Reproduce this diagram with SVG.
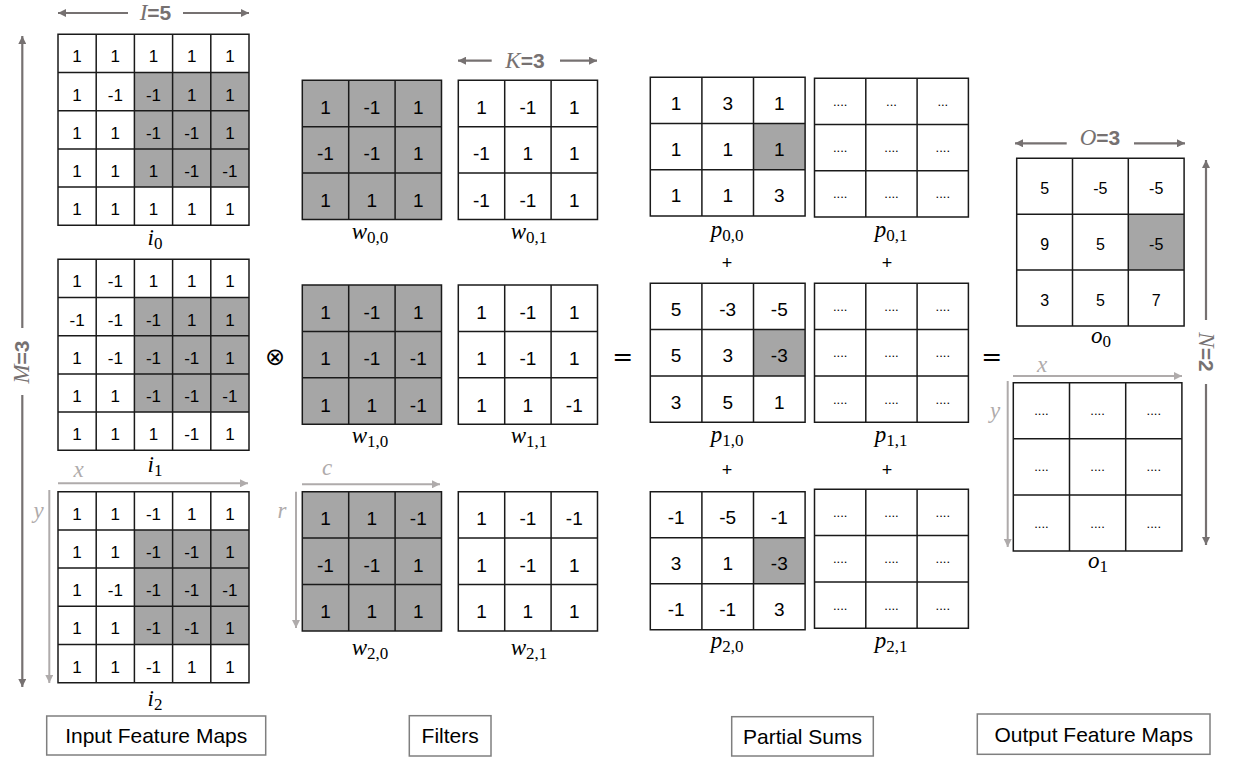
<svg xmlns="http://www.w3.org/2000/svg" width="1233" height="759" viewBox="0 0 1233 759">
<defs>
<style>
.bg{fill:#fff}
.sh{fill:#A6A6A6}
.gl{fill:none;stroke:#1a1a1a;stroke-width:1.5}
.n17{font-family:"Liberation Sans",Arial,sans-serif;font-size:17px;fill:#000;text-anchor:middle}
.n19{font-family:"Liberation Sans",Arial,sans-serif;font-size:19px;fill:#000;text-anchor:middle}
.n16{font-family:"Liberation Sans",Arial,sans-serif;font-size:16px;fill:#000;text-anchor:middle}
.dt{font-family:"Liberation Sans",Arial,sans-serif;font-size:13px;fill:#000;text-anchor:middle}
.lb{font-family:"Liberation Serif","Times New Roman",serif;font-style:italic;font-size:23px;fill:#000;text-anchor:middle}
.sb{font-style:normal;font-size:17px}
.op{font-family:"DejaVu Sans","Liberation Sans",sans-serif;fill:#000;text-anchor:middle}
.dim{stroke:#767171;stroke-width:2.2;fill:none}
.dimt{font-family:"Liberation Sans",Arial,sans-serif;font-size:21px;font-weight:bold;fill:#767171;text-anchor:middle}
.dimi{font-family:"Liberation Serif","Times New Roman",serif;font-style:italic;font-weight:normal;font-size:23px}
.ax{stroke:#AFABAB;stroke-width:2;fill:none}
.axt{font-family:"Liberation Serif","Times New Roman",serif;font-style:italic;font-size:23px;fill:#AFABAB;text-anchor:middle}
.box{fill:#fff;stroke:#7f7f7f;stroke-width:1.5}
.bt{font-family:"Liberation Sans",Arial,sans-serif;font-size:21px;fill:#000;text-anchor:middle}
</style>
<marker id="ahd" viewBox="0 0 10 10" refX="10" refY="5" markerWidth="10" markerHeight="8" markerUnits="userSpaceOnUse" orient="auto"><path d="M0,0 L10,5 L0,10 z" fill="#767171"/></marker>
<marker id="ahl" viewBox="0 0 10 10" refX="10" refY="5" markerWidth="10" markerHeight="8" markerUnits="userSpaceOnUse" orient="auto"><path d="M0,0 L10,5 L0,10 z" fill="#AFABAB"/></marker>
</defs>

<!-- Input feature maps -->
<g id="i0">
<rect class="bg" x="58" y="34.3" width="191" height="191"/>
<rect class="sh" x="134.4" y="72.5" width="114.6" height="114.6"/>
<path class="gl" d="M58,34.3H249V225.3H58Z M96.2,34.3V225.3 M134.4,34.3V225.3 M172.6,34.3V225.3 M210.8,34.3V225.3 M58,72.5H249 M58,110.7H249 M58,148.9H249 M58,187.1H249"/>
<g class="n17">
<text x="77.1" y="62.3">1</text><text x="115.3" y="62.3">1</text><text x="153.5" y="62.3">1</text><text x="191.7" y="62.3">1</text><text x="229.9" y="62.3">1</text>
<text x="77.1" y="100.5">1</text><text x="115.3" y="100.5">-1</text><text x="153.5" y="100.5">-1</text><text x="191.7" y="100.5">1</text><text x="229.9" y="100.5">1</text>
<text x="77.1" y="138.7">1</text><text x="115.3" y="138.7">1</text><text x="153.5" y="138.7">-1</text><text x="191.7" y="138.7">-1</text><text x="229.9" y="138.7">1</text>
<text x="77.1" y="176.9">1</text><text x="115.3" y="176.9">1</text><text x="153.5" y="176.9">1</text><text x="191.7" y="176.9">-1</text><text x="229.9" y="176.9">-1</text>
<text x="77.1" y="215.1">1</text><text x="115.3" y="215.1">1</text><text x="153.5" y="215.1">1</text><text x="191.7" y="215.1">1</text><text x="229.9" y="215.1">1</text>
</g>
<text class="lb" x="155" y="245">i<tspan class="sb" dy="4">0</tspan></text>
</g>

<g id="i1">
<rect class="bg" x="58" y="259.3" width="191" height="191"/>
<rect class="sh" x="134.4" y="297.5" width="114.6" height="114.6"/>
<path class="gl" d="M58,259.3H249V450.3H58Z M96.2,259.3V450.3 M134.4,259.3V450.3 M172.6,259.3V450.3 M210.8,259.3V450.3 M58,297.5H249 M58,335.7H249 M58,373.9H249 M58,412.1H249"/>
<g class="n17">
<text x="77.1" y="287.3">1</text><text x="115.3" y="287.3">-1</text><text x="153.5" y="287.3">1</text><text x="191.7" y="287.3">1</text><text x="229.9" y="287.3">1</text>
<text x="77.1" y="325.5">-1</text><text x="115.3" y="325.5">-1</text><text x="153.5" y="325.5">-1</text><text x="191.7" y="325.5">1</text><text x="229.9" y="325.5">1</text>
<text x="77.1" y="363.7">1</text><text x="115.3" y="363.7">-1</text><text x="153.5" y="363.7">-1</text><text x="191.7" y="363.7">-1</text><text x="229.9" y="363.7">1</text>
<text x="77.1" y="401.9">1</text><text x="115.3" y="401.9">1</text><text x="153.5" y="401.9">-1</text><text x="191.7" y="401.9">-1</text><text x="229.9" y="401.9">-1</text>
<text x="77.1" y="440.1">1</text><text x="115.3" y="440.1">1</text><text x="153.5" y="440.1">1</text><text x="191.7" y="440.1">-1</text><text x="229.9" y="440.1">1</text>
</g>
<text class="lb" x="155" y="472">i<tspan class="sb" dy="4">1</tspan></text>
</g>

<g id="i2">
<rect class="bg" x="58" y="491.7" width="191" height="191"/>
<rect class="sh" x="134.4" y="529.9" width="114.6" height="114.6"/>
<path class="gl" d="M58,491.7H249V682.7H58Z M96.2,491.7V682.7 M134.4,491.7V682.7 M172.6,491.7V682.7 M210.8,491.7V682.7 M58,529.9H249 M58,568.1H249 M58,606.3H249 M58,644.5H249"/>
<g class="n17">
<text x="77.1" y="519.7">1</text><text x="115.3" y="519.7">1</text><text x="153.5" y="519.7">-1</text><text x="191.7" y="519.7">1</text><text x="229.9" y="519.7">1</text>
<text x="77.1" y="557.9">1</text><text x="115.3" y="557.9">1</text><text x="153.5" y="557.9">-1</text><text x="191.7" y="557.9">-1</text><text x="229.9" y="557.9">1</text>
<text x="77.1" y="596.1">1</text><text x="115.3" y="596.1">-1</text><text x="153.5" y="596.1">-1</text><text x="191.7" y="596.1">-1</text><text x="229.9" y="596.1">-1</text>
<text x="77.1" y="634.3">1</text><text x="115.3" y="634.3">1</text><text x="153.5" y="634.3">-1</text><text x="191.7" y="634.3">-1</text><text x="229.9" y="634.3">1</text>
<text x="77.1" y="672.5">1</text><text x="115.3" y="672.5">1</text><text x="153.5" y="672.5">-1</text><text x="191.7" y="672.5">1</text><text x="229.9" y="672.5">1</text>
</g>
<text class="lb" x="155" y="706">i<tspan class="sb" dy="4">2</tspan></text>
</g>

<!-- Filters -->
<g id="w00">
<rect class="sh" x="302.3" y="80.3" width="139.2" height="139.2"/>
<path class="gl" d="M302.3,80.3H441.5V219.5H302.3Z M348.7,80.3V219.5 M395.1,80.3V219.5 M302.3,126.7H441.5 M302.3,173.1H441.5"/>
<g class="n19">
<text x="325.5" y="114">1</text><text x="371.9" y="114">-1</text><text x="418.3" y="114">1</text>
<text x="325.5" y="160.4">-1</text><text x="371.9" y="160.4">-1</text><text x="418.3" y="160.4">1</text>
<text x="325.5" y="206.8">1</text><text x="371.9" y="206.8">1</text><text x="418.3" y="206.8">1</text>
</g>
<text class="lb" x="370" y="239">w<tspan class="sb" dy="4">0,0</tspan></text>
</g>

<g id="w01">
<rect class="bg" x="458.3" y="80.3" width="139.2" height="139.2"/>
<path class="gl" d="M458.3,80.3H597.5V219.5H458.3Z M504.7,80.3V219.5 M551.1,80.3V219.5 M458.3,126.7H597.5 M458.3,173.1H597.5"/>
<g class="n19">
<text x="481.5" y="114">1</text><text x="527.9" y="114">-1</text><text x="574.3" y="114">1</text>
<text x="481.5" y="160.4">-1</text><text x="527.9" y="160.4">1</text><text x="574.3" y="160.4">1</text>
<text x="481.5" y="206.8">-1</text><text x="527.9" y="206.8">-1</text><text x="574.3" y="206.8">1</text>
</g>
<text class="lb" x="529" y="239">w<tspan class="sb" dy="4">0,1</tspan></text>
</g>

<g id="w10">
<rect class="sh" x="302.3" y="285" width="139.2" height="139.2"/>
<path class="gl" d="M302.3,285H441.5V424.2H302.3Z M348.7,285V424.2 M395.1,285V424.2 M302.3,331.4H441.5 M302.3,377.8H441.5"/>
<g class="n19">
<text x="325.5" y="318.7">1</text><text x="371.9" y="318.7">-1</text><text x="418.3" y="318.7">1</text>
<text x="325.5" y="365.1">1</text><text x="371.9" y="365.1">-1</text><text x="418.3" y="365.1">-1</text>
<text x="325.5" y="411.5">1</text><text x="371.9" y="411.5">1</text><text x="418.3" y="411.5">-1</text>
</g>
<text class="lb" x="370" y="443">w<tspan class="sb" dy="4">1,0</tspan></text>
</g>

<g id="w11">
<rect class="bg" x="458.3" y="285" width="139.2" height="139.2"/>
<path class="gl" d="M458.3,285H597.5V424.2H458.3Z M504.7,285V424.2 M551.1,285V424.2 M458.3,331.4H597.5 M458.3,377.8H597.5"/>
<g class="n19">
<text x="481.5" y="318.7">1</text><text x="527.9" y="318.7">-1</text><text x="574.3" y="318.7">1</text>
<text x="481.5" y="365.1">1</text><text x="527.9" y="365.1">-1</text><text x="574.3" y="365.1">1</text>
<text x="481.5" y="411.5">1</text><text x="527.9" y="411.5">1</text><text x="574.3" y="411.5">-1</text>
</g>
<text class="lb" x="529" y="443">w<tspan class="sb" dy="4">1,1</tspan></text>
</g>

<g id="w20">
<rect class="sh" x="302.3" y="491.7" width="139.2" height="139.2"/>
<path class="gl" d="M302.3,491.7H441.5V630.9H302.3Z M348.7,491.7V630.9 M395.1,491.7V630.9 M302.3,538.1H441.5 M302.3,584.5H441.5"/>
<g class="n19">
<text x="325.5" y="525.4">1</text><text x="371.9" y="525.4">1</text><text x="418.3" y="525.4">-1</text>
<text x="325.5" y="571.8">-1</text><text x="371.9" y="571.8">-1</text><text x="418.3" y="571.8">1</text>
<text x="325.5" y="618.2">1</text><text x="371.9" y="618.2">1</text><text x="418.3" y="618.2">1</text>
</g>
<text class="lb" x="370" y="655">w<tspan class="sb" dy="4">2,0</tspan></text>
</g>

<g id="w21">
<rect class="bg" x="458.3" y="491.7" width="139.2" height="139.2"/>
<path class="gl" d="M458.3,491.7H597.5V630.9H458.3Z M504.7,491.7V630.9 M551.1,491.7V630.9 M458.3,538.1H597.5 M458.3,584.5H597.5"/>
<g class="n19">
<text x="481.5" y="525.4">1</text><text x="527.9" y="525.4">-1</text><text x="574.3" y="525.4">-1</text>
<text x="481.5" y="571.8">1</text><text x="527.9" y="571.8">-1</text><text x="574.3" y="571.8">1</text>
<text x="481.5" y="618.2">1</text><text x="527.9" y="618.2">1</text><text x="574.3" y="618.2">1</text>
</g>
<text class="lb" x="529" y="655">w<tspan class="sb" dy="4">2,1</tspan></text>
</g>

<!-- Partial sums -->
<g id="p00">
<rect class="bg" x="650.3" y="77.3" width="154.8" height="138.6"/>
<rect class="sh" x="753.5" y="123.5" width="51.6" height="46.2"/>
<path class="gl" d="M650.3,77.3H805.1V215.9H650.3Z M701.9,77.3V215.9 M753.5,77.3V215.9 M650.3,123.5H805.1 M650.3,169.7H805.1"/>
<g class="n19">
<text x="676.1" y="110">1</text><text x="727.7" y="110">3</text><text x="779.3" y="110">1</text>
<text x="676.1" y="156.2">1</text><text x="727.7" y="156.2">1</text><text x="779.3" y="156.2">1</text>
<text x="676.1" y="202.4">1</text><text x="727.7" y="202.4">1</text><text x="779.3" y="202.4">3</text>
</g>
<text class="lb" x="727" y="237">p<tspan class="sb" dy="4">0,0</tspan></text>
</g>

<g id="p01">
<rect class="bg" x="814.5" y="78.3" width="153.9" height="138.6"/>
<path class="gl" d="M814.5,78.3H968.4V216.9H814.5Z M865.8,78.3V216.9 M917.1,78.3V216.9 M814.5,124.5H968.4 M814.5,170.7H968.4"/>
<g class="dt">
<text x="840.2" y="105.9">....</text><text x="891.5" y="105.9">...</text><text x="942.8" y="105.9">...</text>
<text x="840.2" y="152.1">....</text><text x="891.5" y="152.1">....</text><text x="942.8" y="152.1">....</text>
<text x="840.2" y="198.3">....</text><text x="891.5" y="198.3">....</text><text x="942.8" y="198.3">....</text>
</g>
<text class="lb" x="891" y="237">p<tspan class="sb" dy="4">0,1</tspan></text>
</g>

<g id="p10">
<rect class="bg" x="650.3" y="283.3" width="154.8" height="138.9"/>
<rect class="sh" x="753.5" y="329.6" width="51.6" height="46.3"/>
<path class="gl" d="M650.3,283.3H805.1V422.2H650.3Z M701.9,283.3V422.2 M753.5,283.3V422.2 M650.3,329.6H805.1 M650.3,375.9H805.1"/>
<g class="n19">
<text x="676.1" y="316">5</text><text x="727.7" y="316">-3</text><text x="779.3" y="316">-5</text>
<text x="676.1" y="362.3">5</text><text x="727.7" y="362.3">3</text><text x="779.3" y="362.3">-3</text>
<text x="676.1" y="408.6">3</text><text x="727.7" y="408.6">5</text><text x="779.3" y="408.6">1</text>
</g>
<text class="lb" x="727" y="442">p<tspan class="sb" dy="4">1,0</tspan></text>
</g>

<g id="p11">
<rect class="bg" x="814.5" y="283.3" width="153.9" height="138.9"/>
<path class="gl" d="M814.5,283.3H968.4V422.2H814.5Z M865.8,283.3V422.2 M917.1,283.3V422.2 M814.5,329.6H968.4 M814.5,375.9H968.4"/>
<g class="dt">
<text x="840.2" y="310.9">....</text><text x="891.5" y="310.9">....</text><text x="942.8" y="310.9">....</text>
<text x="840.2" y="357.2">....</text><text x="891.5" y="357.2">....</text><text x="942.8" y="357.2">....</text>
<text x="840.2" y="403.5">....</text><text x="891.5" y="403.5">....</text><text x="942.8" y="403.5">....</text>
</g>
<text class="lb" x="891" y="442">p<tspan class="sb" dy="4">1,1</tspan></text>
</g>

<g id="p20">
<rect class="bg" x="650.3" y="491.7" width="154.8" height="138"/>
<rect class="sh" x="753.5" y="537.7" width="51.6" height="46"/>
<path class="gl" d="M650.3,491.7H805.1V629.7H650.3Z M701.9,491.7V629.7 M753.5,491.7V629.7 M650.3,537.7H805.1 M650.3,583.7H805.1"/>
<g class="n19">
<text x="676.1" y="524.4">-1</text><text x="727.7" y="524.4">-5</text><text x="779.3" y="524.4">-1</text>
<text x="676.1" y="570.4">3</text><text x="727.7" y="570.4">1</text><text x="779.3" y="570.4">-3</text>
<text x="676.1" y="616.4">-1</text><text x="727.7" y="616.4">-1</text><text x="779.3" y="616.4">3</text>
</g>
<text class="lb" x="727" y="648">p<tspan class="sb" dy="4">2,0</tspan></text>
</g>

<g id="p21">
<rect class="bg" x="814.5" y="489.3" width="153.9" height="138.9"/>
<path class="gl" d="M814.5,489.3H968.4V628.2H814.5Z M865.8,489.3V628.2 M917.1,489.3V628.2 M814.5,535.6H968.4 M814.5,581.9H968.4"/>
<g class="dt">
<text x="840.2" y="517">....</text><text x="891.5" y="517">....</text><text x="942.8" y="517">....</text>
<text x="840.2" y="563.2">....</text><text x="891.5" y="563.2">....</text><text x="942.8" y="563.2">....</text>
<text x="840.2" y="609.5">....</text><text x="891.5" y="609.5">....</text><text x="942.8" y="609.5">....</text>
</g>
<text class="lb" x="891" y="648">p<tspan class="sb" dy="4">2,1</tspan></text>
</g>

<g id="plus" font-family="Liberation Sans, Arial, sans-serif" font-size="18" text-anchor="middle">
<text x="727" y="269">+</text><text x="887" y="269">+</text>
<text x="727" y="476">+</text><text x="887" y="476">+</text>
</g>

<!-- Output feature maps -->
<g id="o0">
<rect class="bg" x="1016.7" y="158.3" width="167.4" height="167.7"/>
<rect class="sh" x="1128.3" y="214.2" width="55.8" height="55.9"/>
<path class="gl" d="M1016.7,158.3H1184.1V326H1016.7Z M1072.5,158.3V326 M1128.3,158.3V326 M1016.7,214.2H1184.1 M1016.7,270.1H1184.1"/>
<g class="n16">
<text x="1044.6" y="194.3">5</text><text x="1100.4" y="194.3">-5</text><text x="1156.2" y="194.3">-5</text>
<text x="1044.6" y="250.2">9</text><text x="1100.4" y="250.2">5</text><text x="1156.2" y="250.2">-5</text>
<text x="1044.6" y="306.1">3</text><text x="1100.4" y="306.1">5</text><text x="1156.2" y="306.1">7</text>
</g>
<text class="lb" x="1101" y="343">o<tspan class="sb" dy="4">0</tspan></text>
</g>

<g id="o1">
<rect class="bg" x="1013.3" y="382.7" width="168.6" height="168.3"/>
<path class="gl" d="M1013.3,382.7H1181.9V551H1013.3Z M1069.5,382.7V551 M1125.7,382.7V551 M1013.3,438.8H1181.9 M1013.3,494.9H1181.9"/>
<g class="dt">
<text x="1041.4" y="415.3">....</text><text x="1097.6" y="415.3">....</text><text x="1153.8" y="415.3">....</text>
<text x="1041.4" y="471.4">....</text><text x="1097.6" y="471.4">....</text><text x="1153.8" y="471.4">....</text>
<text x="1041.4" y="527.5">....</text><text x="1097.6" y="527.5">....</text><text x="1153.8" y="527.5">....</text>
</g>
<text class="lb" x="1098" y="568">o<tspan class="sb" dy="4">1</tspan></text>
</g>

<!-- Operators -->
<g id="ops">
<text class="op" x="275" y="365" font-size="24">⊗</text>
<text class="op" x="622.7" y="365" font-size="25" font-family="Liberation Sans, Arial, sans-serif">=</text>
<text class="op" x="991.7" y="365" font-size="25" font-family="Liberation Sans, Arial, sans-serif">=</text>
</g>

<!-- Connectors: dimension and axis arrows -->
<g id="connectors">
<line class="dim" x1="128" y1="13" x2="58" y2="13" marker-end="url(#ahd)"/>
<line class="dim" x1="183" y1="13" x2="249" y2="13" marker-end="url(#ahd)"/>
<line class="dim" x1="491.7" y1="60.7" x2="458" y2="60.7" marker-end="url(#ahd)"/>
<line class="dim" x1="560" y1="60.7" x2="597" y2="60.7" marker-end="url(#ahd)"/>
<line class="dim" x1="1066.7" y1="143.3" x2="1015" y2="143.3" marker-end="url(#ahd)"/>
<line class="dim" x1="1134" y1="143.3" x2="1185" y2="143.3" marker-end="url(#ahd)"/>
<line class="dim" x1="22.3" y1="328" x2="22.3" y2="36" marker-end="url(#ahd)"/>
<line class="dim" x1="22.3" y1="395" x2="22.3" y2="687" marker-end="url(#ahd)"/>
<line class="dim" x1="1206" y1="320" x2="1206" y2="160" marker-end="url(#ahd)"/>
<line class="dim" x1="1206" y1="384" x2="1206" y2="545" marker-end="url(#ahd)"/>
<line class="ax" x1="58" y1="483.3" x2="248" y2="483.3" marker-end="url(#ahl)"/>
<line class="ax" x1="49.3" y1="490" x2="49.3" y2="683" marker-end="url(#ahl)"/>
<line class="ax" x1="302" y1="484.3" x2="440" y2="484.3" marker-end="url(#ahl)"/>
<line class="ax" x1="296" y1="491.7" x2="296" y2="628" marker-end="url(#ahl)"/>
<line class="ax" x1="1013" y1="376" x2="1182" y2="376" marker-end="url(#ahl)"/>
<line class="ax" x1="1007.7" y1="381" x2="1007.7" y2="547" marker-end="url(#ahl)"/>
</g>

<g id="dim-labels">
<text class="dimt" x="155.5" y="20"><tspan class="dimi">I</tspan>=5</text>
<text class="dimt" x="525" y="67.5"><tspan class="dimi">K</tspan>=3</text>
<text class="dimt" x="1100" y="145"><tspan class="dimi">O</tspan>=3</text>
<text class="dimt" transform="translate(22.3,362) rotate(-90)" y="7"><tspan class="dimi">M</tspan>=3</text>
<text class="dimt" transform="translate(1206,352) rotate(90)" y="7"><tspan class="dimi">N</tspan>=2</text>
<text class="axt" x="78.5" y="477">x</text>
<text class="axt" x="38.5" y="518">y</text>
<text class="axt" x="327" y="475">c</text>
<text class="axt" x="282" y="518">r</text>
<text class="axt" x="1042" y="372">x</text>
<text class="axt" x="995" y="418">y</text>
</g>

<!-- Section captions -->
<g id="cap-input"><rect class="box" x="46.7" y="716" width="219" height="39"/><text class="bt" x="156.2" y="743">Input Feature Maps</text></g>
<g id="cap-filters"><rect class="box" x="409.3" y="715.7" width="81.7" height="40.3"/><text class="bt" x="450.2" y="743">Filters</text></g>
<g id="cap-psums"><rect class="box" x="731.7" y="716.7" width="141.6" height="39.3"/><text class="bt" x="802.5" y="743.5">Partial Sums</text></g>
<g id="cap-output"><rect class="box" x="977.3" y="714" width="232.7" height="40.3"/><text class="bt" x="1093.7" y="741.5">Output Feature Maps</text></g>
</svg>
